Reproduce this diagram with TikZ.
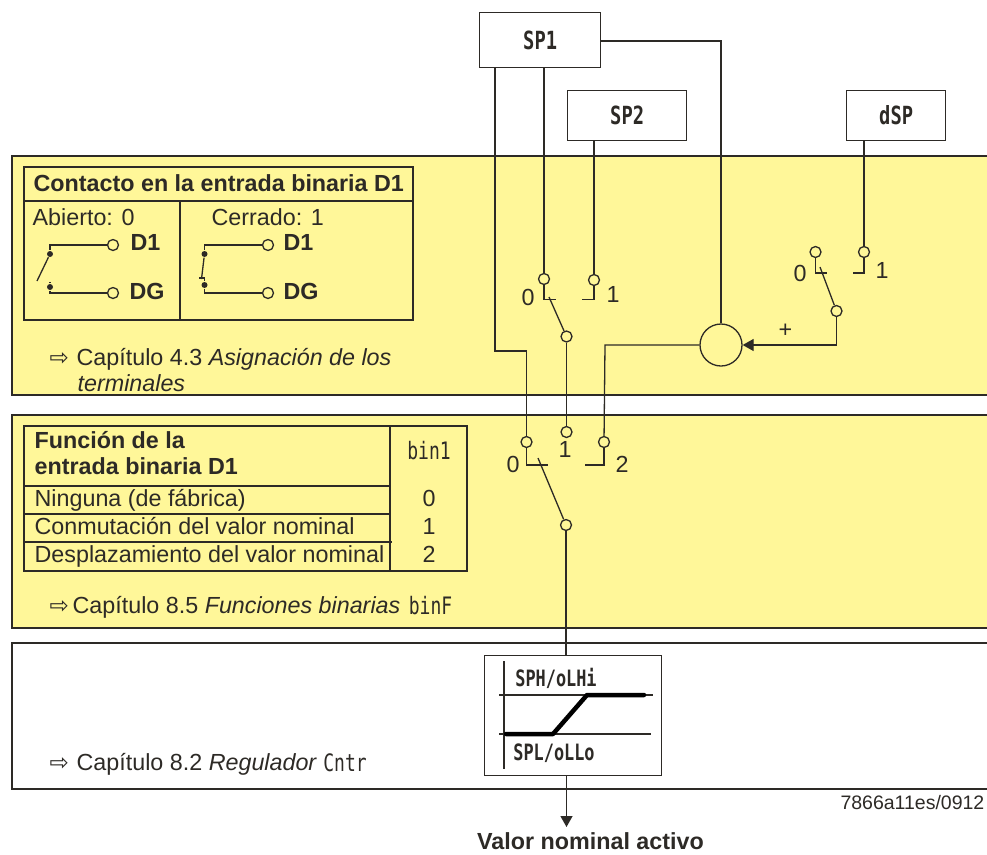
\documentclass[tikz,border=0pt]{standalone}
\usepackage{fontspec}
\setmainfont{Liberation Sans}
\newfontfamily\dispfont[FakeStretch=0.75]{DejaVu Sans Mono}
\newfontfamily\symfont{DejaVu Sans}
\usetikzlibrary{calc,arrows.meta,positioning}
\definecolor{panelyellow}{RGB}{255,247,153}
\definecolor{linedark}{RGB}{45,42,38}
\newcommand{\disp}[1]{{\dispfont\fontsize{24}{24}\selectfont #1}}
\newcommand{\dispb}[1]{{\dispfont\bfseries\fontsize{25}{25}\selectfont #1}}
\newcommand{\dispc}[1]{{\dispfont\bfseries\fontsize{22.5}{22.5}\selectfont #1}}
\newcommand{\goto}{{\symfont\fontsize{23}{23}\selectfont ⇨}}

\begin{document}
\begin{tikzpicture}[x=1pt,y=-1pt,line width=1.3pt]

\tikzset{inner sep=0mm,
wire/.style={draw=linedark,line width=1.3pt},
frame/.style={draw=linedark,line width=1.3pt},
valbox/.style={draw=linedark,line width=1.3pt,fill=white,rectangle,anchor=north west},
term/.style={circle,draw=linedark,line width=1.3pt,fill=panelyellow,minimum size=11pt},
circ/.style={circle,draw=linedark,line width=1.3pt,minimum size=11pt},
dot/.style={circle,fill=linedark,minimum size=6pt},
txt/.style={anchor=west,text=linedark,font=\fontsize{23.3}{23.3}\selectfont,text height=19pt,text depth=4pt},
txtb/.style={txt,font=\fontsize{23.3}{23.3}\selectfont\bfseries},
jump/.style={wire,-{Triangle[length=11pt,width=12pt]}}}

\useasboundingbox (0,0) rectangle (987,854);

% Panels
\fill[panelyellow] (12,156) rectangle (987,395);
\fill[panelyellow] (12,415) rectangle (987,628);
\draw[frame] (987,156) -- (12,156) -- (12,395) -- (987,395);
\draw[frame] (987,415) -- (12,415) -- (12,628) -- (987,628);
\draw[frame] (987,643) -- (12,643) -- (12,789) -- (987,789);

% Value boxes
\node[valbox,minimum width=121pt,minimum height=55pt] (SP1) at (479,12) {};
\node[valbox,minimum width=119pt,minimum height=50pt] (SP2) at (567,90) {};
\node[valbox,minimum width=99pt,minimum height=50pt] (dSP) at (846,90) {};
\node[text=linedark] (SP1txt) at (SP1.center) {\dispb{SP1}};
\node[text=linedark] (SP2txt) at (SP2.center) {\dispb{SP2}};
\node[text=linedark] (dSPtxt) at (dSP.center) {\dispb{dSP}};

% Contact table
\draw[frame] (24,167) rectangle (413,320);
\draw[frame] (24,201) -- (413,201);
\draw[frame] (180,201) -- (180,320);
\node[txtb] (contitle) at (33,184) {Contacto en la entrada binaria D1};
\node[txt] (open) at (32,218) {Abierto: 0};
\node[txt] (closed) at (211,218) {Cerrado: 1};

% Open contact
\node[term] (oD1) at (113,245) {};
\node[term] (oDG) at (113,293) {};
\node[dot] (oa) at (50,254) {};
\node[dot] (ob) at (50,287) {};
\coordinate (olever) at (37,281);
\draw[wire] (oD1) -- (oa |- oD1) -- (oa);
\draw[wire] (oDG) -- (ob |- oDG) -- (ob);
\draw[wire] (oa) -- (olever);
\draw[wire] (ob) -- ++(0,-5);
\node[txtb] (oD1txt) at (130,243) {D1};
\node[txtb] (oDGtxt) at (129,292) {DG};

% Closed contact
\node[term] (cD1) at (268,245) {};
\node[term] (cDG) at (268,293) {};
\node[dot] (ca) at (204.5,254) {};
\node[dot] (cb) at (204.5,285) {};
\coordinate (clever) at (201.5,279);
\draw[wire] (cD1) -- (ca |- cD1) -- (ca);
\draw[wire] (cDG) -- (cb |- cDG) -- (cb);
\draw[wire] (ca) -- (clever);
\draw[wire] (199,278) -- (204.5,278) -- (cb);
\node[txtb] (cD1txt) at (283,243) {D1};
\node[txtb] (cDGtxt) at (283,292) {DG};

\node[txt] (arrow43) at (49,358) {\goto};
\node[txt] (cap43) at (76,358) {Capítulo 4.3 \textit{Asignación de los}};
\node[txt] (cap43b) at (77,384) {\textit{terminales}};

% Function table
\draw[frame] (24,426) rectangle (467,571);
\draw[frame] (390,426) -- (390,571);
\draw[frame] (24,486) -- (390,486);
\draw[frame] (24,514) -- (390,514);
\draw[frame] (24,542) -- (392,542);
\node[txtb] (fun1) at (34,441) {Función de la};
\node[txtb] (fun2) at (34,467) {entrada binaria D1};
\node[txt] (fun3) at (34,499) {Ninguna (de fábrica)};
\node[txt] (fun4) at (34,527) {Conmutación del valor nominal};
\node[txt] (fun5) at (34,555) {Desplazamiento del valor nominal};
\node[text=linedark] (bin) at (429,451) {\disp{bin1}};
\node[txt,anchor=center] (val0) at (429,499) {0};
\node[txt,anchor=center] (val1) at (429,527) {1};
\node[txt,anchor=center] (val2) at (429,555) {2};

\node[txt] (arrow85) at (49,606) {\goto};
\node[txt] (cap85) at (72,606) {Capítulo 8.5 \textit{Funciones binarias}};
\node[text=linedark] (binF) at (430.5,606) {\disp{binF}};

\node[txt] (arrow82) at (49,763) {\goto};
\node[txt] (cap82) at (76,763) {Capítulo 8.2 \textit{Regulador}};
\node[text=linedark] (Cntr) at (345,763) {\disp{Cntr}};

% Sum point
\node[circ,minimum size=42pt] (sum) at (721,345) {};

% Upper switch
\node[term] (a0) at (544,279) {};
\node[term] (a1) at (594,280) {};
\node[term] (ac) at (566.5,336.5) {};
\coordinate (abend0) at (544,299.5);
\coordinate (atip0) at (556,299.5);
\coordinate (abend1) at (594,299.5);
\coordinate (atip1) at (582,299.5);
\coordinate (alever) at (549,297);
\draw[wire] (a0 |- SP1.south) -- (a0);
\draw[wire] (a1 |- SP2.south) -- (a1);
\draw[wire] (a0) -- (abend0) -- (atip0);
\draw[wire] (a1) -- (abend1) -- (atip1);
\draw[wire] (alever) -- (ac);
\node[txt,anchor=center] (a0txt) at (528,298) {0};
\node[txt,anchor=center] (a1txt) at (613,295) {1};

% Right switch
\node[term] (b0) at (815.5,252) {};
\node[term] (b1) at (864,252) {};
\node[term] (bc) at (836.5,311) {};
\coordinate (bbend0) at (815.5,273);
\coordinate (btip0) at (827,273);
\coordinate (bbend1) at (864,273);
\coordinate (btip1) at (853,273);
\coordinate (blever) at (820,267);
\draw[wire] (b1 |- dSP.south) -- (b1);
\draw[wire] (b0) -- (bbend0) -- (btip0);
\draw[wire] (b1) -- (bbend1) -- (btip1);
\draw[wire] (blever) -- (bc);
\draw[jump] (bc) |- (sum.east);
\node[txt,anchor=center] (b0txt) at (800,274) {0};
\node[txt,anchor=center] (b1txt) at (882,271) {1};
\node[txt,anchor=center] (plus) at (785.5,330) {+};

% Lower switch
\node[term] (c0) at (526.5,442) {};
\node[term] (c1) at (566.5,432) {};
\node[term] (c2) at (604,442) {};
\node[term] (cc) at (566,525) {};
\coordinate (cbend0) at (526.5,465);
\coordinate (ctip0) at (548,465);
\coordinate (cbend2) at (604,465);
\coordinate (ctip2) at (585,465);
\coordinate (clever2) at (538,458);
\draw[wire] (c0) -- (cbend0) -- (ctip0);
\draw[wire] (c2) -- (cbend2) -- (ctip2);
\draw[wire] (clever2) -- (cc);
\draw[wire] (ac) -- (c1);
\node[txt,anchor=center] (c0txt) at (513,465) {0};
\node[txt,anchor=center] (c1txt) at (565,450) {1};
\node[txt,anchor=center] (c2txt) at (622,465) {2};

% Feeds
\coordinate (feedA) at (495,351);
\coordinate (feedB) at (721,41);
\coordinate (feedC) at (605,345);
\draw[wire] (feedA |- SP1.south) -- (feedA) -- (c0 |- feedA) -- (c0);
\draw[wire] (SP1.east |- feedB) -- (feedB) -- (sum);
\draw[wire] (sum) -- (feedC) -- (c2);

% Limiter
\node[valbox,minimum width=177pt,minimum height=120pt] (lim) at (483.5,655) {};
\draw[wire] (cc) -- (cc |- lim.north);
\draw[wire] (504,661) -- (504,769);
\draw[wire] (499,695) -- (653,695);
\draw[wire] (499,734) -- (651,734);
\draw[line width=4.5pt,draw=black,line cap=round,line join=round] (506,734) -- (553,734) -- (587,695) -- (644,695);
\node[text=linedark] (SPH) at (556,678) {\dispc{SPH/oLHi}};
\node[text=linedark] (SPL) at (554,753) {\dispc{SPL/oLLo}};

% Output
\coordinate (out) at (566.5,827);
\draw[jump] (lim.south -| out) -- (out);
\node[txt,anchor=east,font=\fontsize{19.5}{19.5}\selectfont] (code) at (985,802) {7866a11es/0912};
\node[txtb,anchor=base,text height=16pt,text depth=0pt] (outtxt) at (590.5,849) {Valor nominal activo};

\end{tikzpicture}
\end{document}
